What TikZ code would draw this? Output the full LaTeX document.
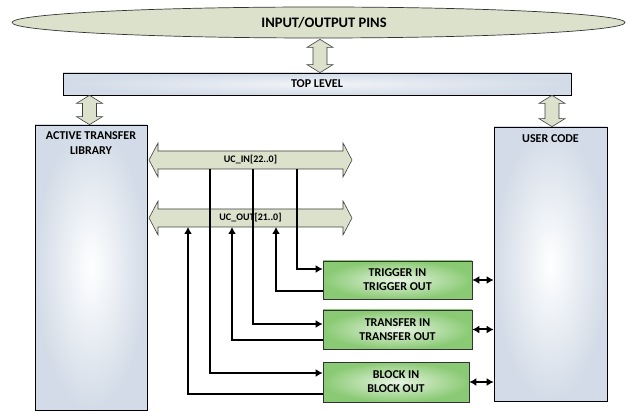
\documentclass[tikz,border=0pt]{standalone}
\usepackage{fontspec}
\setmainfont{Carlito}
\usetikzlibrary{calc,arrows.meta,shapes.geometric}
\definecolor{pinfill}{HTML}{DCE1CC}
\definecolor{bluefill}{HTML}{D2DBE7}
\definecolor{greenout}{HTML}{8ACA74}
\definecolor{greenin}{HTML}{E8F4E3}
\newcommand\vbig[2]{%
  \draw[bigarrow] (#1) -- ($(#1)+(13,8)$) -- ($(#1)+(7,8)$) -- ($(#2)+(7,-8)$) -- ($(#2)+(13,-8)$)
    -- (#2) -- ($(#2)+(-13,-8)$) -- ($(#2)+(-7,-8)$) -- ($(#1)+(-7,8)$) -- ($(#1)+(-13,8)$) -- cycle;}
\newcommand\hbig[2]{%
  \draw[bigarrow] (#1) -- ($(#1)+(9,-17)$) -- ($(#1)+(9,-9)$) -- ($(#2)+(-9,-9)$) -- ($(#2)+(-9,-17)$)
    -- (#2) -- ($(#2)+(-9,17)$) -- ($(#2)+(-9,9)$) -- ($(#1)+(9,9)$) -- ($(#1)+(9,17)$) -- cycle;}
\begin{document}
\begin{tikzpicture}[x=1pt,y=-1pt,
  bigarrow/.style={draw=black!75, fill=pinfill, line width=0.6pt, line join=miter},
  bluebox/.style={rectangle, draw=black, line width=0.7pt, inner sep=0pt, inner color=white, outer color=bluefill},
  greenbox/.style={rectangle, draw=black!80, line width=0.7pt, inner sep=0pt, minimum width=149pt, minimum height=38pt,
     inner color=greenin, outer color=greenout, align=center, font=\fontsize{12}{14}\selectfont\bfseries},
  lbl/.style={inner sep=0pt, align=center, font=\fontsize{12}{15}\selectfont\bfseries},
  buslbl/.style={inner sep=0pt, font=\fontsize{10}{12}\selectfont\bfseries},
  wire/.style={line width=2pt, line join=miter},
  tip/.style={-{Latex[length=7pt,width=8pt]}},
  dtip/.style={{Latex[length=7pt,width=8pt]}-{Latex[length=7pt,width=8pt]}}
]
\useasboundingbox (0,0) rectangle (626,411);

% main blocks
\node[ellipse, draw=black!80, line width=0.7pt, fill=pinfill, minimum width=613pt, minimum height=31pt, inner sep=0pt] (pins) at (318.5,22.5) {};
\node[inner sep=0pt, font=\fontsize{14.5}{16}\selectfont\bfseries] (pinstxt) at (324,22.5) {INPUT/OUTPUT PINS};
\node[bluebox, minimum width=508pt, minimum height=22pt, inner color=bluefill!30, outer color=bluefill] (top) at (317,84) {};
\node[lbl] (toptxt) at (top) {TOP LEVEL};
\node[bluebox, minimum width=112pt, minimum height=285pt] (atl) at (91,267.5) {};
\node[lbl] (atltxt) at (91,143) {ACTIVE TRANSFER\\LIBRARY};
\node[bluebox, minimum width=113pt, minimum height=274pt] (uc) at (550.5,264) {};
\node[lbl] (uctxt) at (550.5,139) {USER CODE};

% green blocks
\node[greenbox] (trig) at (397.5,280) {TRIGGER IN\\TRIGGER OUT};
\node[greenbox, minimum height=39pt] (xfer) at (397.5,329.5) {TRANSFER IN\\TRANSFER OUT};
\node[greenbox, minimum width=146pt, minimum height=40pt] (blk) at (396,382) {BLOCK IN\\BLOCK OUT};

% hollow vertical arrows
\vbig{$(pins.south)+(1.5,1)$}{$(top.north)+(3,0)$}
\vbig{$(top.south -| atl.north)+(-1.5,0)$}{$(atl.north)+(-1.5,0)$}
\vbig{$(top.south -| uc.north)+(1.5,0)$}{$(uc.north)+(1.5,0)$}

% buses
\coordinate (inL) at (149,160);
\coordinate (inR) at (352,160);
\coordinate (outL) at (149,218);
\coordinate (outR) at (352,218);
\hbig{inL}{inR}
\hbig{outL}{outR}
\node[buslbl] (ucin) at ($(inL)!0.5!(inR)$) {UC\_IN[22..0]};
\node[buslbl] (ucout) at ($(outL)!0.5!(outR)$) {UC\_OUT[21..0]};

% wire taps
\coordinate (i1) at (297,169);
\coordinate (i2) at (253,169);
\coordinate (i3) at (210,169);
\coordinate (o1) at (276,227);
\coordinate (o2) at (232,227);
\coordinate (o3) at (188,227);

\draw[wire,tip] (i1) |- ([yshift=11pt]trig.west);
\draw[wire,tip] ([yshift=-11pt]trig.west) -| (o1);
\draw[wire,tip] (i2) |- ([yshift=5.5pt]xfer.west);
\draw[wire,tip] ([yshift=-10.5pt]xfer.west) -| (o2);
\draw[wire,tip] (i3) |- ([yshift=9pt]blk.west);
\draw[wire,tip] ([yshift=-12pt]blk.west) -| (o3);

% to user code
\draw[wire,dtip] (trig.east) -- (trig.east -| uc.west);
\draw[wire,dtip] (xfer.east) -- (xfer.east -| uc.west);
\draw[wire,dtip] (blk.east) -- (blk.east -| uc.west);
\end{tikzpicture}
\end{document}
